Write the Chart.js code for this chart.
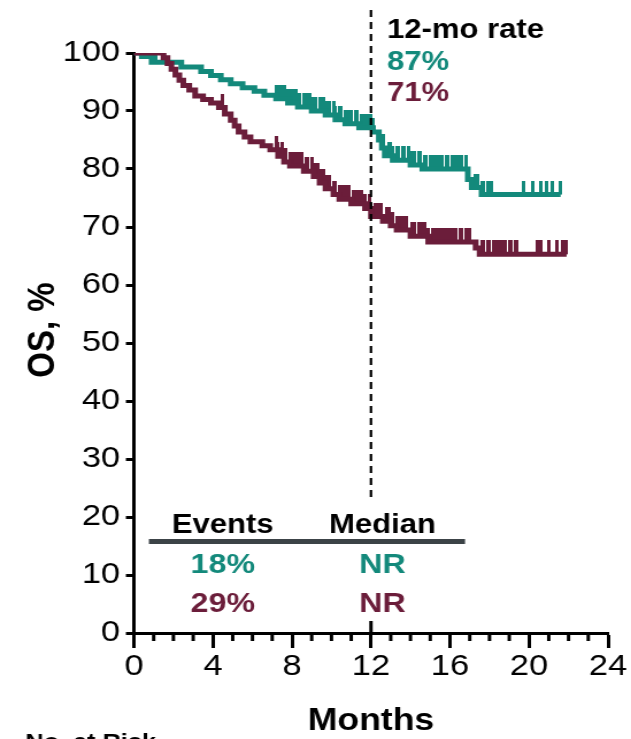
<!DOCTYPE html>
<html>
<head>
<meta charset="utf-8">
<script src="https://cdn.jsdelivr.net/npm/chart.js@4.4.1/dist/chart.umd.min.js"></script>
<style>
  html, body { margin: 0; padding: 0; background: #fff; overflow: hidden; }
  /* the figure is drawn a little narrow and widened to the page */
  #wrap { width: 549px; height: 739px; transform: scaleX(1.1494); transform-origin: 0 0; }
</style>
</head>
<body>
<div id="wrap"><canvas id="osChart" width="549" height="739"></canvas></div>
<script>
const monthTicks = [0, 4, 8, 12, 16, 20, 24];
const osTicks = [0, 10, 20, 30, 40, 50, 60, 70, 80, 90, 100];

// teal arm: Kaplan-Meier steps (months, OS %) and censored times
const tealMonths = [0, 0.4, 0.9, 2.4, 3.4, 3.9, 4.4, 4.9, 5.5, 6.1, 6.6, 7.2, 7.8, 8.3, 9.0, 9.7, 10.2, 10.7, 11.4, 12.1, 12.4, 12.55, 12.7, 13.1, 14.0, 14.6, 16.9, 17.1, 17.6, 21.6];
const tealOS = [100, 99.4, 98.4, 97.6, 96.8, 96.1, 95.4, 94.7, 94.0, 93.4, 92.7, 92.1, 91.4, 90.7, 90.0, 89.3, 88.5, 87.8, 87.1, 86.4, 85.0, 83.6, 82.3, 81.5, 80.7, 80.0, 78.2, 76.8, 75.6, 75.6];
const tealCensored = [1.1, 7.2, 7.3, 7.4, 7.5, 7.6, 7.8, 7.9, 8.1, 8.2, 8.4, 8.6, 8.7, 8.9, 9.1, 9.2, 9.4, 9.6, 9.7, 9.9, 10.1, 10.2, 10.4, 10.5, 10.7, 10.9, 11.0, 11.2, 11.3, 11.5, 11.7, 11.8, 12.0, 12.1, 12.6, 12.9, 13.0, 13.1, 13.3, 13.4, 13.6, 13.7, 13.9, 14.1, 14.2, 14.4, 14.5, 14.7, 14.8, 15.0, 15.1, 15.3, 15.4, 15.6, 15.8, 15.9, 16.1, 16.3, 16.4, 16.6, 16.8, 17.3, 17.4, 17.6, 17.7, 17.9, 18.1, 19.7, 20.2, 20.6, 20.9, 21.2, 21.6];

// maroon arm
const maroonMonths = [0, 1.5, 1.7, 1.9, 2.1, 2.3, 2.5, 2.8, 3.1, 3.5, 3.9, 4.3, 4.6, 4.9, 5.1, 5.3, 5.6, 5.9, 6.5, 6.9, 7.3, 7.6, 7.9, 8.6, 9.1, 9.4, 9.7, 10.1, 10.4, 11.0, 11.7, 12.0, 12.6, 13.0, 13.3, 14.0, 14.9, 17.3, 17.5, 21.9];
const maroonOS = [100, 99.2, 98.2, 97.2, 96.2, 95.3, 94.4, 93.6, 92.6, 92.0, 91.4, 90.6, 89.5, 88.4, 87.4, 86.4, 85.5, 84.7, 84.0, 83.3, 82.2, 81.2, 80.5, 79.6, 78.7, 77.6, 76.6, 75.6, 74.8, 74.0, 73.2, 71.8, 71.0, 70.2, 69.5, 68.4, 67.4, 66.4, 65.3, 65.3];
const maroonCensored = [1.4, 4.5, 7.2, 7.3, 7.5, 7.6, 7.7, 7.9, 8.0, 8.2, 8.3, 8.5, 8.7, 8.8, 9.0, 9.2, 9.3, 9.5, 9.6, 9.8, 9.9, 10.1, 10.2, 10.4, 10.6, 10.7, 10.9, 11.1, 11.2, 11.4, 11.5, 11.7, 11.9, 12.0, 12.2, 12.4, 12.5, 12.8, 12.9, 13.1, 13.3, 13.5, 13.6, 13.8, 14.1, 14.2, 14.4, 14.6, 14.7, 14.9, 15.1, 15.3, 15.4, 15.6, 15.7, 15.9, 16.0, 16.2, 16.3, 16.5, 16.6, 16.8, 17.0, 17.6, 17.7, 17.9, 18.0, 18.2, 18.4, 18.5, 18.7, 18.8, 19.0, 19.1, 19.3, 19.4, 20.4, 20.5, 20.6, 21.0, 21.4, 21.7, 21.9];

const rateTitle = '12-mo rate';
const rateValues = ['87%', '71%'];
const tableHeads = ['Events', 'Median'];
const eventRates = ['18%', '29%'];
const medianOS = ['NR', 'NR'];
const riskTitle = 'No. at Risk';

const TEAL = '#13897b';
const MAROON = '#6b1d3a';
const FONT = '"Liberation Sans", Arial, sans-serif';

// survival level of a step curve at time t
function levelAt(months, os, t) {
    let v = os[0];
    for (let i = 0; i < months.length; i++) {
        if (months[i] <= t) v = os[i];
    }
    return v;
}

// upward censor tick, drawn as a point image centred on the curve
function censorMark(color) {
    const c = document.createElement('canvas');
    c.width = 3;
    c.height = 28;
    const g = c.getContext('2d');
    g.fillStyle = color;
    g.fillRect(0, 0, 3, 14);
    return c;
}

function curve(months, os, color) {
    return {
        data: months.map((m, i) => ({ x: m, y: os[i] })),
        borderColor: color,
        borderWidth: 5,
        stepped: 'before',
        pointRadius: 0,
        fill: false
    };
}

function censors(months, os, times, color) {
    return {
        data: times.map(t => ({ x: t, y: levelAt(months, os, t) })),
        showLine: false,
        pointStyle: censorMark(color),
        pointRadius: 3,
        borderColor: color,
        backgroundColor: color
    };
}

const kmExtras = {
    id: 'kmExtras',
    afterDatasetsDraw(chart) {
        const { ctx, chartArea } = chart;
        const x = chart.scales.x;
        const y = chart.scales.y;
        ctx.save();

        // minor month ticks
        ctx.strokeStyle = '#000';
        ctx.lineWidth = 3;
        for (let m = 1; m < 24; m++) {
            if (m % 4 === 0) continue;
            const px = x.getPixelForValue(m);
            ctx.beginPath();
            ctx.moveTo(px, chartArea.bottom);
            ctx.lineTo(px, chartArea.bottom + 8);
            ctx.stroke();
        }

        // 12-month landmark
        const x12 = x.getPixelForValue(12);
        ctx.beginPath();
        ctx.moveTo(x12, chartArea.bottom);
        ctx.lineTo(x12, chartArea.bottom - 12);
        ctx.stroke();
        ctx.setLineDash([7, 5]);
        ctx.lineWidth = 2.2;
        ctx.beginPath();
        ctx.moveTo(x12, 10);
        ctx.lineTo(x12, y.getPixelForValue(23.4));
        ctx.stroke();
        ctx.setLineDash([]);

        // 12-month rates
        ctx.font = 'bold 27px ' + FONT;
        ctx.textAlign = 'left';
        ctx.textBaseline = 'alphabetic';
        ctx.fillStyle = '#000';
        ctx.fillText(rateTitle, x12 + 14, 38);
        ctx.fillStyle = TEAL;
        ctx.fillText(rateValues[0], x12 + 14, 70);
        ctx.fillStyle = MAROON;
        ctx.fillText(rateValues[1], x12 + 14, 101);

        // events / median table
        const colA = x.getPixelForValue(4.5);
        const colB = x.getPixelForValue(12.58);
        ctx.textAlign = 'center';
        ctx.fillStyle = '#000';
        ctx.font = 'bold 27px ' + FONT;
        ctx.fillText(tableHeads[0], colA, 533);
        ctx.fillText(tableHeads[1], colB, 533);
        ctx.strokeStyle = '#3c4347';
        ctx.lineWidth = 5;
        ctx.beginPath();
        ctx.moveTo(x.getPixelForValue(0.76), 541.5);
        ctx.lineTo(x.getPixelForValue(16.76), 541.5);
        ctx.stroke();
        ctx.font = 'bold 28px ' + FONT;
        ctx.fillStyle = TEAL;
        ctx.fillText(eventRates[0], colA, 573);
        ctx.fillText(medianOS[0], colB, 573);
        ctx.fillStyle = MAROON;
        ctx.fillText(eventRates[1], colA, 611.5);
        ctx.fillText(medianOS[1], colB, 611.5);

        // y axis title
        ctx.save();
        ctx.translate(37.5, 330);
        ctx.rotate(-Math.PI / 2);
        ctx.font = 'bold 33px ' + FONT;
        ctx.fillStyle = '#000';
        ctx.textAlign = 'center';
        ctx.textBaseline = 'middle';
        ctx.fillText('OS, %', 0, 0);
        ctx.restore();

        // risk table heading, running off the bottom
        ctx.font = 'bold 22px ' + FONT;
        ctx.textAlign = 'left';
        ctx.fillStyle = '#000';
        ctx.fillText(riskTitle, 22, 749);

        ctx.restore();
    }
};

const ctx = document.getElementById('osChart').getContext('2d');
const chart = new Chart(ctx, {
    type: 'line',
    data: {
        datasets: [
            curve(maroonMonths, maroonOS, MAROON),
            curve(tealMonths, tealOS, TEAL),
            censors(maroonMonths, maroonOS, maroonCensored, MAROON),
            censors(tealMonths, tealOS, tealCensored, TEAL)
        ]
    },
    options: {
        responsive: false,
        animation: false,
        devicePixelRatio: 1,
        layout: { padding: { top: 53, right: 20, left: 0, bottom: 0 } },
        plugins: {
            legend: { display: false },
            tooltip: { enabled: false }
        },
        scales: {
            x: {
                type: 'linear',
                min: 0,
                max: 24,
                afterBuildTicks: s => { s.ticks = monthTicks.map(v => ({ value: v })); },
                afterFit: s => { s.height = 106; },
                grid: { drawOnChartArea: false, drawTicks: true, tickLength: 15, tickWidth: 3, tickColor: '#000', color: '#000' },
                border: { display: true, color: '#000', width: 3 },
                ticks: { font: { family: FONT, size: 30 }, color: '#000', padding: 1, maxRotation: 0, autoSkip: false },
                title: {
                    display: true,
                    text: 'Months',
                    color: '#000',
                    font: { family: FONT, size: 31, weight: 'bold', lineHeight: 1 },
                    padding: { top: 0, bottom: 2 }
                }
            },
            y: {
                type: 'linear',
                min: 0,
                max: 100,
                afterBuildTicks: s => { s.ticks = osTicks.map(v => ({ value: v })); },
                afterFit: s => { s.width = 116.5; },
                grid: { drawOnChartArea: false, drawTicks: true, tickLength: 7, tickWidth: 3, tickColor: '#000', color: '#000' },
                border: { display: true, color: '#000', width: 3 },
                ticks: { font: { family: FONT, size: 30 }, color: '#000', padding: 5 }
            }
        }
    },
    plugins: [kmExtras]
});
</script>
</body>
</html>
